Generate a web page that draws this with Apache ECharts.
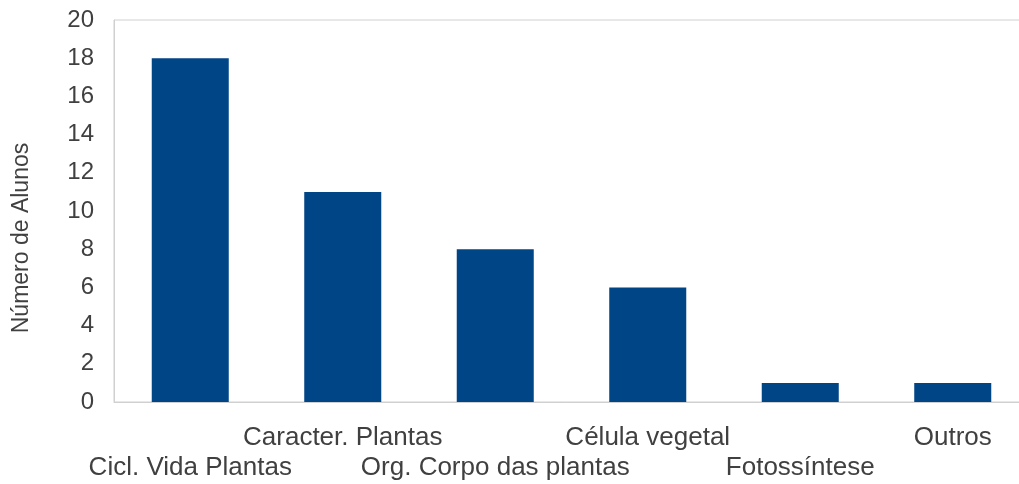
<!DOCTYPE html>
<html>
<head>
<meta charset="utf-8">
<script src="https://cdn.jsdelivr.net/npm/echarts@6/dist/echarts.min.js"></script>
<style>html,body{margin:0;padding:0;background:#fff}#c{width:1019px;height:484px}</style>
</head>
<body>
<div id="c"></div>
<script>
var categories = ['Cicl. Vida Plantas', 'Caracter. Plantas', 'Org. Corpo das plantas', 'Célula vegetal', 'Fotossíntese', 'Outros'];
var values = [18, 11, 8, 6, 1, 1];
var yTitle = 'Número de Alunos';

var chart = echarts.init(document.getElementById('c'), null, {renderer: 'canvas'});
var font = '"Liberation Sans", Arial, sans-serif';
chart.setOption({
  animation: false,
  grid: {left: 114, top: 20, width: 915, height: 382, outerBoundsMode: 'none', containLabel: false, show: true, borderColor: '#d0d0d0', borderWidth: 1, backgroundColor: 'transparent'},
  xAxis: {
    type: 'category',
    data: categories,
    axisLine: {show: true, lineStyle: {color: '#d0d0d0', width: 1}},
    axisTick: {show: false},
    axisLabel: {
      interval: 0,
      margin: 21,
      color: '#404040',
      fontFamily: font,
      fontSize: 26,
      lineHeight: 30,
      hideOverlap: false,
      formatter: function (v, i) { return i % 2 === 0 ? '\n' + v : v; }
    }
  },
  yAxis: {
    type: 'value',
    min: 0, max: 20, interval: 2,
    axisLine: {show: true, lineStyle: {color: '#d0d0d0', width: 1}},
    axisTick: {show: false},
    splitLine: {show: false},
    axisLabel: {margin: 20, color: '#404040', fontFamily: font, fontSize: 24}
  },
  graphic: [{
    type: 'text',
    x: 22, y: 238,
    rotation: Math.PI / 2,
    style: {text: yTitle, fill: '#404040', font: '23px ' + font, align: 'center', verticalAlign: 'middle'}
  }],
  series: [{
    type: 'bar',
    data: values,
    barWidth: '50.5%',
    itemStyle: {color: '#004586'}
  }]
});
</script>
</body>
</html>
